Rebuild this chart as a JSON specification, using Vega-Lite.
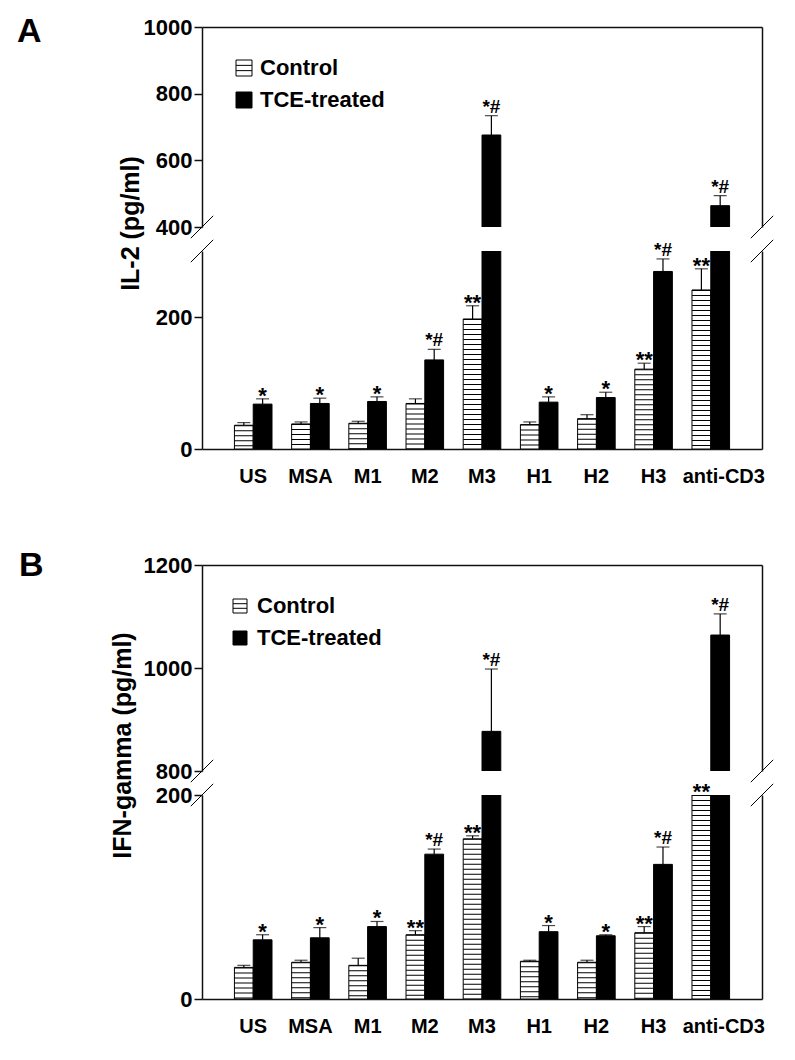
{
  "$schema": "https://vega.github.io/schema/vega-lite/v6.json",
  "padding": {"left": 17, "top": 15, "right": 5, "bottom": 5},
  "datasets": {
    "il2": [
      {"cat": "US", "group": "Control", "value": 36, "err": 40, "sig": ""},
      {"cat": "US", "group": "TCE-treated", "value": 68, "err": 76, "sig": "*"},
      {"cat": "MSA", "group": "Control", "value": 38, "err": 41, "sig": ""},
      {"cat": "MSA", "group": "TCE-treated", "value": 69, "err": 77, "sig": "*"},
      {"cat": "M1", "group": "Control", "value": 39, "err": 42, "sig": ""},
      {"cat": "M1", "group": "TCE-treated", "value": 72, "err": 79, "sig": "*"},
      {"cat": "M2", "group": "Control", "value": 69, "err": 76, "sig": ""},
      {"cat": "M2", "group": "TCE-treated", "value": 135, "err": 151, "sig": "*#"},
      {"cat": "M3", "group": "Control", "value": 197, "err": 217, "sig": "**"},
      {"cat": "M3", "group": "TCE-treated", "value": 676, "err": 734, "sig": "*#"},
      {"cat": "H1", "group": "Control", "value": 37, "err": 41, "sig": ""},
      {"cat": "H1", "group": "TCE-treated", "value": 71, "err": 79, "sig": "*"},
      {"cat": "H2", "group": "Control", "value": 46, "err": 52, "sig": ""},
      {"cat": "H2", "group": "TCE-treated", "value": 78, "err": 86, "sig": "*"},
      {"cat": "H3", "group": "Control", "value": 121, "err": 130, "sig": "**"},
      {"cat": "H3", "group": "TCE-treated", "value": 269, "err": 288, "sig": "*#"},
      {"cat": "anti-CD3", "group": "Control", "value": 241, "err": 273, "sig": "**"},
      {"cat": "anti-CD3", "group": "TCE-treated", "value": 464, "err": 494, "sig": "*#"}
    ],
    "ifn": [
      {"cat": "US", "group": "Control", "value": 31, "err": 33, "sig": ""},
      {"cat": "US", "group": "TCE-treated", "value": 58, "err": 63, "sig": "*"},
      {"cat": "MSA", "group": "Control", "value": 36, "err": 38, "sig": ""},
      {"cat": "MSA", "group": "TCE-treated", "value": 60, "err": 70, "sig": "*"},
      {"cat": "M1", "group": "Control", "value": 33, "err": 40, "sig": ""},
      {"cat": "M1", "group": "TCE-treated", "value": 71, "err": 76, "sig": "*"},
      {"cat": "M2", "group": "Control", "value": 63, "err": 67, "sig": "**"},
      {"cat": "M2", "group": "TCE-treated", "value": 142, "err": 147, "sig": "*#"},
      {"cat": "M3", "group": "Control", "value": 157, "err": 160, "sig": "**"},
      {"cat": "M3", "group": "TCE-treated", "value": 877, "err": 998, "sig": "*#"},
      {"cat": "H1", "group": "Control", "value": 37, "err": 38, "sig": ""},
      {"cat": "H1", "group": "TCE-treated", "value": 66, "err": 72, "sig": "*"},
      {"cat": "H2", "group": "Control", "value": 36, "err": 38, "sig": ""},
      {"cat": "H2", "group": "TCE-treated", "value": 62, "err": 63, "sig": "*"},
      {"cat": "H3", "group": "Control", "value": 65, "err": 71, "sig": "**"},
      {"cat": "H3", "group": "TCE-treated", "value": 132, "err": 149, "sig": "*#"},
      {"cat": "anti-CD3", "group": "Control", "value": 200, "err": 200, "sig": "**"},
      {"cat": "anti-CD3", "group": "TCE-treated", "value": 1064, "err": 1105, "sig": "*#"}
    ]
  },
  "config": {
    "font": "Liberation Sans",
    "view": {"stroke": null},
    "axis": {
      "grid": false, "domainColor": "#111111", "domainWidth": 1.5,
      "tickColor": "#111111", "tickWidth": 1.5, "tickSize": 8,
      "labelColor": "black", "labelFont": "Liberation Sans", "labelFontWeight": "bold",
      "titleColor": "black", "titleFont": "Liberation Sans", "titleFontWeight": "bold",
      "labelFlush": false, "labelOverlap": false, "labelBound": false
    },
    "legend": {"labelFont": "Liberation Sans", "labelColor": "black", "padding": 0},
    "title": {"font": "Liberation Sans", "fontWeight": "bold", "color": "black"}
  },
  "spacing": 63,
  "resolve": {"scale": {"fill": "independent"}, "legend": {"fill": "independent"}},
  "vconcat": [
    {
      "title": {"text": "A", "anchor": "start", "frame": "group", "fontSize": 34, "baseline": "alphabetic", "offset": 0, "dx": -185, "dy": 60},
      "bounds": "flush",
      "spacing": 24,
      "resolve": {"scale": {"fill": "independent"}, "legend": {"fill": "independent"}},
      "vconcat": [
        {
          "width": 560, "height": 200,
          "data": {"name": "il2"},
          "resolve": {"axis": {"y": "independent"}},
          "layer": [
            {
              "mark": {"type": "bar", "clip": true, "stroke": "black", "strokeWidth": 1},
              "encoding": {
                "x": {"field": "cat", "type": "nominal", "sort": ["US","MSA","M1","M2","M3","H1","H2","H3","anti-CD3"], "scale": {"paddingInner": 0.343, "paddingOuter": 0.567}, "axis": {"orient": "top", "labels": false, "ticks": false, "title": null, "domain": true}},
                "xOffset": {"field": "group", "type": "nominal", "sort": ["Control","TCE-treated"], "scale": {"paddingInner": 0, "paddingOuter": 0}},
                "y": {"field": "value", "type": "quantitative", "scale": {"domain": [400, 1000], "zero": false, "nice": false}, "axis": {"values": [400, 600, 800, 1000], "format": "d", "labelFontSize": 22, "labelPadding": 2, "title": "IL-2 (pg/ml)", "titleFontSize": 25, "titleY": 196, "titlePadding": 0}},
                "fill": {"field": "group", "type": "nominal", "scale": {"domain": ["Control","TCE-treated"], "range": ["white","black"]}, "legend": {"orient": "none", "legendX": 31, "legendY": 30, "title": null, "labelFontSize": 22, "labelFontWeight": "bold", "symbolType": "M -1 -1 L 1 -1 L 1 1 L -1 1 Z M -1 -0.33 L 1 -0.33 M -1 0.33 L 1 0.33", "symbolSize": 256, "rowPadding": 10, "labelOffset": 5, "symbolStrokeColor": "black", "symbolStrokeWidth": 1, "symbolOpacity": 1}}
              }
            },
            {
              "transform": [{"filter": "datum.err > datum.value && datum.err > 400"}],
              "mark": {"type": "rule", "color": "black", "strokeWidth": 1.2},
              "encoding": {
                "x": {"field": "cat", "type": "nominal", "sort": ["US","MSA","M1","M2","M3","H1","H2","H3","anti-CD3"]},
                "xOffset": {"field": "group", "type": "nominal", "sort": ["Control","TCE-treated"]},
                "y": {"field": "value", "type": "quantitative", "axis": {"orient": "right", "labels": false, "ticks": false, "title": null, "domain": true}},
                "y2": {"field": "err"}
              }
            },
            {
              "transform": [{"filter": "datum.err > datum.value && datum.err > 400"}],
              "mark": {"type": "tick", "color": "black", "size": 13, "thickness": 1.2},
              "encoding": {
                "x": {"field": "cat", "type": "nominal", "sort": ["US","MSA","M1","M2","M3","H1","H2","H3","anti-CD3"]},
                "xOffset": {"field": "group", "type": "nominal", "sort": ["Control","TCE-treated"]},
                "y": {"field": "err", "type": "quantitative", "axis": null}
              }
            },
            {
              "transform": [{"filter": "datum.sig == '*#' && datum.err > 400"}],
              "mark": {"type": "text", "fontSize": 19, "fontWeight": "bold", "color": "black", "baseline": "alphabetic", "dy": -3},
              "encoding": {
                "x": {"field": "cat", "type": "nominal", "sort": ["US","MSA","M1","M2","M3","H1","H2","H3","anti-CD3"]},
                "xOffset": {"field": "group", "type": "nominal", "sort": ["Control","TCE-treated"]},
                "y": {"field": "err", "type": "quantitative", "axis": null},
                "text": {"field": "sig"}
              }
            },
            {
              "transform": [{"filter": "(datum.sig == '*' || datum.sig == '**') && datum.err > 400"}],
              "mark": {"type": "text", "fontSize": 22, "fontWeight": "bold", "color": "black", "baseline": "alphabetic", "dy": 4},
              "encoding": {
                "x": {"field": "cat", "type": "nominal", "sort": ["US","MSA","M1","M2","M3","H1","H2","H3","anti-CD3"]},
                "xOffset": {"field": "group", "type": "nominal", "sort": ["Control","TCE-treated"]},
                "y": {"field": "err", "type": "quantitative", "axis": null},
                "text": {"field": "sig"}
              }
            },
            {
              "data": {"values": [{"k": 1}]},
              "mark": {"type": "point", "shape": "M -1 1 L 1 -1", "size": 500, "filled": false, "stroke": "black", "strokeWidth": 1, "opacity": 1},
              "encoding": {"x": {"value": 0}, "y": {"datum": 400, "axis": null}}
            },
            {
              "data": {"values": [{"k": 1}]},
              "mark": {"type": "point", "shape": "M -1 1 L 1 -1", "size": 500, "filled": false, "stroke": "black", "strokeWidth": 1, "opacity": 1},
              "encoding": {"x": {"value": "width"}, "y": {"datum": 400, "axis": null}}
            }
          ]
        },
        {
          "width": 560, "height": 198,
          "data": {"name": "il2"},
          "resolve": {"axis": {"y": "independent"}},
          "layer": [
            {
              "mark": {"type": "bar", "clip": true, "stroke": "black", "strokeWidth": 1},
              "encoding": {
                "x": {"field": "cat", "type": "nominal", "sort": ["US","MSA","M1","M2","M3","H1","H2","H3","anti-CD3"], "scale": {"paddingInner": 0.343, "paddingOuter": 0.567}, "axis": {"orient": "bottom", "ticks": false, "title": null, "labelAngle": 0, "labelFontSize": 20, "labelPadding": 17, "labelOffset": {"condition": {"test": "datum.label == 'anti-CD3'", "value": 13}, "value": 0}, "domain": true}},
                "xOffset": {"field": "group", "type": "nominal", "sort": ["Control","TCE-treated"], "scale": {"paddingInner": 0, "paddingOuter": 0}},
                "y": {"field": "value", "type": "quantitative", "scale": {"domain": [0, 300], "nice": false}, "axis": {"values": [0, 200], "format": "d", "labelFontSize": 22, "labelPadding": 2, "title": null}},
                "fill": {"field": "group", "type": "nominal", "scale": {"domain": ["Control","TCE-treated"], "range": ["white","black"]}, "legend": null}
              }
            },
            {
              "transform": [{"filter": "datum.group == 'Control'"}],
              "mark": {"type": "rule", "clip": true, "stroke": "black", "strokeWidth": 18.6, "strokeDash": [1, 4], "strokeCap": "butt"},
              "encoding": {
                "x": {"field": "cat", "type": "nominal", "sort": ["US","MSA","M1","M2","M3","H1","H2","H3","anti-CD3"]},
                "xOffset": {"field": "group", "type": "nominal", "sort": ["Control","TCE-treated"]},
                "y": {"field": "value", "type": "quantitative", "axis": null},
                "y2": {"datum": 0}
              }
            },
            {
              "transform": [{"filter": "datum.err > datum.value && datum.err <= 300"}],
              "mark": {"type": "rule", "color": "black", "strokeWidth": 1.2},
              "encoding": {
                "x": {"field": "cat", "type": "nominal", "sort": ["US","MSA","M1","M2","M3","H1","H2","H3","anti-CD3"]},
                "xOffset": {"field": "group", "type": "nominal", "sort": ["Control","TCE-treated"]},
                "y": {"field": "value", "type": "quantitative", "axis": {"orient": "right", "labels": false, "ticks": false, "title": null, "domain": true}},
                "y2": {"field": "err"}
              }
            },
            {
              "transform": [{"filter": "datum.err > datum.value && datum.err <= 300"}],
              "mark": {"type": "tick", "color": "black", "size": 13, "thickness": 1.2},
              "encoding": {
                "x": {"field": "cat", "type": "nominal", "sort": ["US","MSA","M1","M2","M3","H1","H2","H3","anti-CD3"]},
                "xOffset": {"field": "group", "type": "nominal", "sort": ["Control","TCE-treated"]},
                "y": {"field": "err", "type": "quantitative", "axis": null}
              }
            },
            {
              "transform": [{"filter": "datum.sig == '*#' && datum.err <= 300"}],
              "mark": {"type": "text", "fontSize": 19, "fontWeight": "bold", "color": "black", "baseline": "alphabetic", "dy": -3},
              "encoding": {
                "x": {"field": "cat", "type": "nominal", "sort": ["US","MSA","M1","M2","M3","H1","H2","H3","anti-CD3"]},
                "xOffset": {"field": "group", "type": "nominal", "sort": ["Control","TCE-treated"]},
                "y": {"field": "err", "type": "quantitative", "axis": null},
                "text": {"field": "sig"}
              }
            },
            {
              "transform": [{"filter": "(datum.sig == '*' || datum.sig == '**') && datum.err <= 300"}],
              "mark": {"type": "text", "fontSize": 22, "fontWeight": "bold", "color": "black", "baseline": "alphabetic", "dy": 4},
              "encoding": {
                "x": {"field": "cat", "type": "nominal", "sort": ["US","MSA","M1","M2","M3","H1","H2","H3","anti-CD3"]},
                "xOffset": {"field": "group", "type": "nominal", "sort": ["Control","TCE-treated"]},
                "y": {"field": "err", "type": "quantitative", "axis": null},
                "text": {"field": "sig"}
              }
            },
            {
              "data": {"values": [{"k": 1}]},
              "mark": {"type": "point", "shape": "M -1 1 L 1 -1", "size": 500, "filled": false, "stroke": "black", "strokeWidth": 1, "opacity": 1},
              "encoding": {"x": {"value": 0}, "y": {"datum": 300, "axis": null}}
            },
            {
              "data": {"values": [{"k": 1}]},
              "mark": {"type": "point", "shape": "M -1 1 L 1 -1", "size": 500, "filled": false, "stroke": "black", "strokeWidth": 1, "opacity": 1},
              "encoding": {"x": {"value": "width"}, "y": {"datum": 300, "axis": null}}
            }
          ]
        }
      ]
    },
    {
      "title": {"text": "B", "anchor": "start", "frame": "group", "fontSize": 34, "baseline": "alphabetic", "offset": 0, "dx": -183, "dy": 56},
      "bounds": "flush",
      "spacing": 24,
      "resolve": {"scale": {"fill": "independent"}, "legend": {"fill": "independent"}},
      "vconcat": [
        {
          "width": 560, "height": 206,
          "data": {"name": "ifn"},
          "resolve": {"axis": {"y": "independent"}},
          "layer": [
            {
              "mark": {"type": "bar", "clip": true, "stroke": "black", "strokeWidth": 1},
              "encoding": {
                "x": {"field": "cat", "type": "nominal", "sort": ["US","MSA","M1","M2","M3","H1","H2","H3","anti-CD3"], "scale": {"paddingInner": 0.343, "paddingOuter": 0.567}, "axis": {"orient": "top", "labels": false, "ticks": false, "title": null, "domain": true}},
                "xOffset": {"field": "group", "type": "nominal", "sort": ["Control","TCE-treated"], "scale": {"paddingInner": 0, "paddingOuter": 0}},
                "y": {"field": "value", "type": "quantitative", "scale": {"domain": [800, 1200], "zero": false, "nice": false}, "axis": {"values": [800, 1000, 1200], "format": "d", "labelFontSize": 22, "labelPadding": 2, "title": "IFN-gamma (pg/ml)", "titleFontSize": 25, "titleY": 180, "titlePadding": 8}},
                "fill": {"field": "group", "type": "nominal", "scale": {"domain": ["Control","TCE-treated"], "range": ["white","black"]}, "legend": {"orient": "none", "legendX": 27, "legendY": 30, "title": null, "labelFontSize": 22, "labelFontWeight": "bold", "symbolType": "M -1 -1 L 1 -1 L 1 1 L -1 1 Z M -1 -0.33 L 1 -0.33 M -1 0.33 L 1 0.33", "symbolSize": 196, "rowPadding": 10, "labelOffset": 6, "symbolStrokeColor": "black", "symbolStrokeWidth": 1, "symbolOpacity": 1}}
              }
            },
            {
              "transform": [{"filter": "datum.err > datum.value && datum.err > 200"}],
              "mark": {"type": "rule", "color": "black", "strokeWidth": 1.2},
              "encoding": {
                "x": {"field": "cat", "type": "nominal", "sort": ["US","MSA","M1","M2","M3","H1","H2","H3","anti-CD3"]},
                "xOffset": {"field": "group", "type": "nominal", "sort": ["Control","TCE-treated"]},
                "y": {"field": "value", "type": "quantitative", "axis": {"orient": "right", "labels": false, "ticks": false, "title": null, "domain": true}},
                "y2": {"field": "err"}
              }
            },
            {
              "transform": [{"filter": "datum.err > datum.value && datum.err > 200"}],
              "mark": {"type": "tick", "color": "black", "size": 13, "thickness": 1.2},
              "encoding": {
                "x": {"field": "cat", "type": "nominal", "sort": ["US","MSA","M1","M2","M3","H1","H2","H3","anti-CD3"]},
                "xOffset": {"field": "group", "type": "nominal", "sort": ["Control","TCE-treated"]},
                "y": {"field": "err", "type": "quantitative", "axis": null}
              }
            },
            {
              "transform": [{"filter": "datum.sig == '*#' && datum.err > 200"}],
              "mark": {"type": "text", "fontSize": 19, "fontWeight": "bold", "color": "black", "baseline": "alphabetic", "dy": -3},
              "encoding": {
                "x": {"field": "cat", "type": "nominal", "sort": ["US","MSA","M1","M2","M3","H1","H2","H3","anti-CD3"]},
                "xOffset": {"field": "group", "type": "nominal", "sort": ["Control","TCE-treated"]},
                "y": {"field": "err", "type": "quantitative", "axis": null},
                "text": {"field": "sig"}
              }
            },
            {
              "transform": [{"filter": "(datum.sig == '*' || datum.sig == '**') && datum.err > 200"}],
              "mark": {"type": "text", "fontSize": 22, "fontWeight": "bold", "color": "black", "baseline": "alphabetic", "dy": 4},
              "encoding": {
                "x": {"field": "cat", "type": "nominal", "sort": ["US","MSA","M1","M2","M3","H1","H2","H3","anti-CD3"]},
                "xOffset": {"field": "group", "type": "nominal", "sort": ["Control","TCE-treated"]},
                "y": {"field": "err", "type": "quantitative", "axis": null},
                "text": {"field": "sig"}
              }
            },
            {
              "data": {"values": [{"k": 1}]},
              "mark": {"type": "point", "shape": "M -1 1 L 1 -1", "size": 500, "filled": false, "stroke": "black", "strokeWidth": 1, "opacity": 1},
              "encoding": {"x": {"value": 0}, "y": {"datum": 800, "axis": null}}
            },
            {
              "data": {"values": [{"k": 1}]},
              "mark": {"type": "point", "shape": "M -1 1 L 1 -1", "size": 500, "filled": false, "stroke": "black", "strokeWidth": 1, "opacity": 1},
              "encoding": {"x": {"value": "width"}, "y": {"datum": 800, "axis": null}}
            }
          ]
        },
        {
          "width": 560, "height": 204,
          "data": {"name": "ifn"},
          "resolve": {"axis": {"y": "independent"}},
          "layer": [
            {
              "mark": {"type": "bar", "clip": true, "stroke": "black", "strokeWidth": 1},
              "encoding": {
                "x": {"field": "cat", "type": "nominal", "sort": ["US","MSA","M1","M2","M3","H1","H2","H3","anti-CD3"], "scale": {"paddingInner": 0.343, "paddingOuter": 0.567}, "axis": {"orient": "bottom", "ticks": false, "title": null, "labelAngle": 0, "labelFontSize": 20, "labelPadding": 17, "labelOffset": {"condition": {"test": "datum.label == 'anti-CD3'", "value": 13}, "value": 0}, "domain": true}},
                "xOffset": {"field": "group", "type": "nominal", "sort": ["Control","TCE-treated"], "scale": {"paddingInner": 0, "paddingOuter": 0}},
                "y": {"field": "value", "type": "quantitative", "scale": {"domain": [0, 200], "nice": false}, "axis": {"values": [0, 200], "format": "d", "labelFontSize": 22, "labelPadding": 2, "title": null}},
                "fill": {"field": "group", "type": "nominal", "scale": {"domain": ["Control","TCE-treated"], "range": ["white","black"]}, "legend": null}
              }
            },
            {
              "transform": [{"filter": "datum.group == 'Control'"}],
              "mark": {"type": "rule", "clip": true, "stroke": "black", "strokeWidth": 18.6, "strokeDash": [1, 4], "strokeCap": "butt"},
              "encoding": {
                "x": {"field": "cat", "type": "nominal", "sort": ["US","MSA","M1","M2","M3","H1","H2","H3","anti-CD3"]},
                "xOffset": {"field": "group", "type": "nominal", "sort": ["Control","TCE-treated"]},
                "y": {"field": "value", "type": "quantitative", "axis": null},
                "y2": {"datum": 0}
              }
            },
            {
              "transform": [{"filter": "datum.err > datum.value && datum.err <= 200"}],
              "mark": {"type": "rule", "color": "black", "strokeWidth": 1.2},
              "encoding": {
                "x": {"field": "cat", "type": "nominal", "sort": ["US","MSA","M1","M2","M3","H1","H2","H3","anti-CD3"]},
                "xOffset": {"field": "group", "type": "nominal", "sort": ["Control","TCE-treated"]},
                "y": {"field": "value", "type": "quantitative", "axis": {"orient": "right", "labels": false, "ticks": false, "title": null, "domain": true}},
                "y2": {"field": "err"}
              }
            },
            {
              "transform": [{"filter": "datum.err > datum.value && datum.err <= 200"}],
              "mark": {"type": "tick", "color": "black", "size": 13, "thickness": 1.2},
              "encoding": {
                "x": {"field": "cat", "type": "nominal", "sort": ["US","MSA","M1","M2","M3","H1","H2","H3","anti-CD3"]},
                "xOffset": {"field": "group", "type": "nominal", "sort": ["Control","TCE-treated"]},
                "y": {"field": "err", "type": "quantitative", "axis": null}
              }
            },
            {
              "transform": [{"filter": "datum.sig == '*#' && datum.err <= 200"}],
              "mark": {"type": "text", "fontSize": 19, "fontWeight": "bold", "color": "black", "baseline": "alphabetic", "dy": -3},
              "encoding": {
                "x": {"field": "cat", "type": "nominal", "sort": ["US","MSA","M1","M2","M3","H1","H2","H3","anti-CD3"]},
                "xOffset": {"field": "group", "type": "nominal", "sort": ["Control","TCE-treated"]},
                "y": {"field": "err", "type": "quantitative", "axis": null},
                "text": {"field": "sig"}
              }
            },
            {
              "transform": [{"filter": "(datum.sig == '*' || datum.sig == '**') && datum.err <= 200"}],
              "mark": {"type": "text", "fontSize": 22, "fontWeight": "bold", "color": "black", "baseline": "alphabetic", "dy": 4},
              "encoding": {
                "x": {"field": "cat", "type": "nominal", "sort": ["US","MSA","M1","M2","M3","H1","H2","H3","anti-CD3"]},
                "xOffset": {"field": "group", "type": "nominal", "sort": ["Control","TCE-treated"]},
                "y": {"field": "err", "type": "quantitative", "axis": null},
                "text": {"field": "sig"}
              }
            },
            {
              "data": {"values": [{"k": 1}]},
              "mark": {"type": "point", "shape": "M -1 1 L 1 -1", "size": 500, "filled": false, "stroke": "black", "strokeWidth": 1, "opacity": 1},
              "encoding": {"x": {"value": 0}, "y": {"datum": 200, "axis": null}}
            },
            {
              "data": {"values": [{"k": 1}]},
              "mark": {"type": "point", "shape": "M -1 1 L 1 -1", "size": 500, "filled": false, "stroke": "black", "strokeWidth": 1, "opacity": 1},
              "encoding": {"x": {"value": "width"}, "y": {"datum": 200, "axis": null}}
            }
          ]
        }
      ]
    }
  ]
}
